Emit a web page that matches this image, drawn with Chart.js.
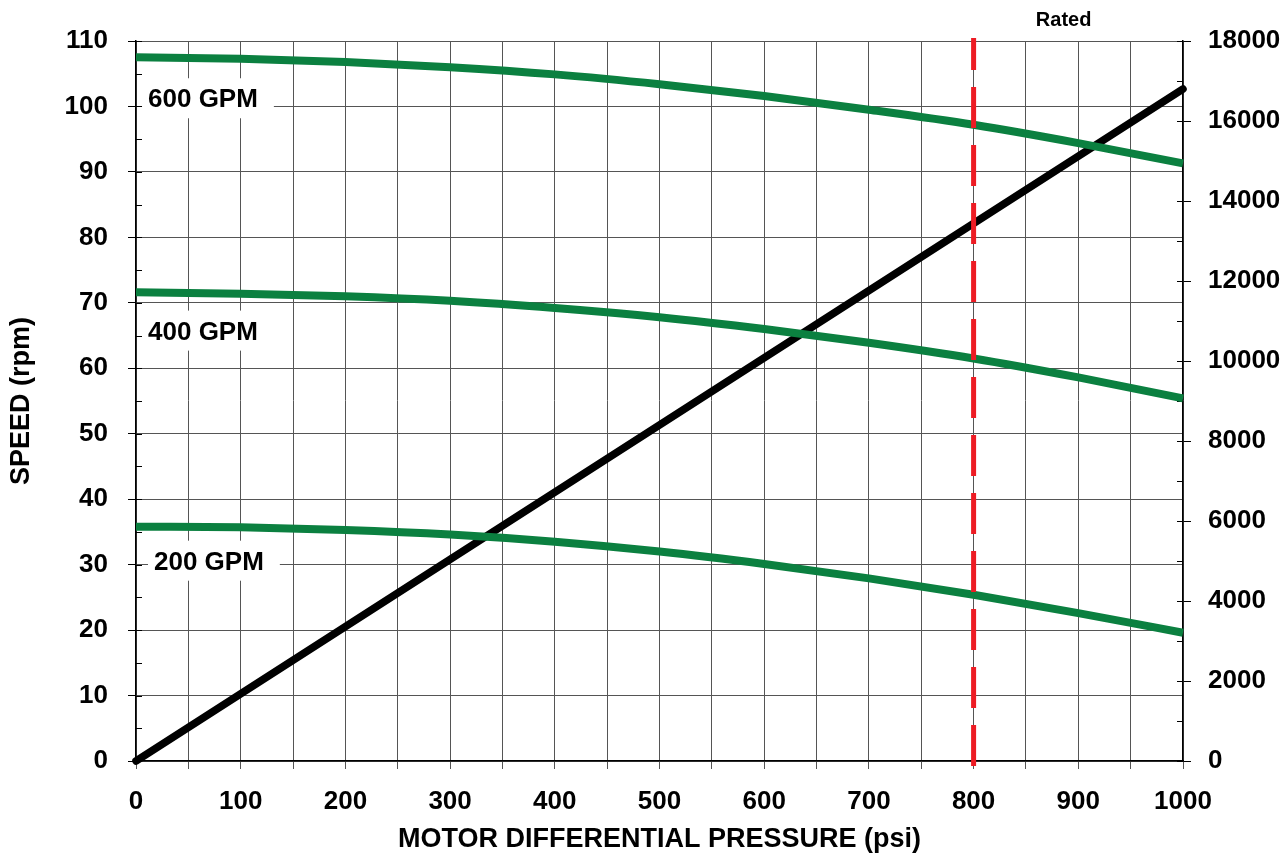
<!DOCTYPE html>
<html>
<head>
<meta charset="utf-8">
<title>Motor speed vs differential pressure</title>
<script src="https://cdn.jsdelivr.net/npm/chart.js@4.4.1/dist/chart.umd.min.js"></script>
<style>
  html, body { margin: 0; padding: 0; background: #fff; }
  #wrap { width: 1288px; height: 854px; }
</style>
</head>
<body>
<div id="wrap"><canvas id="speedChart" width="1288" height="854"></canvas></div>
<script>
// motor differential pressure (psi)
const pressure = [0, 100, 200, 300, 400, 500, 600, 700, 800, 900, 1000];
// speed (rpm) for each flow rate
const speed600 = [107.5, 107.3, 106.8, 106.0, 104.9, 103.4, 101.6, 99.5, 97.2, 94.4, 91.3];
const speed400 = [71.6, 71.4, 71.0, 70.3, 69.2, 67.8, 66.0, 63.9, 61.5, 58.6, 55.4];
const speed200 = [35.8, 35.7, 35.3, 34.6, 33.5, 32.0, 30.1, 27.9, 25.4, 22.6, 19.6];
// torque (right axis)
const torquePressure = [0, 1000];
const torque = [0, 16800];
const ratedPressure = 800;
const curveNames = ['600 GPM', '400 GPM', '200 GPM'];

const FONT = '"Liberation Sans", Arial, Helvetica, sans-serif';
const GREEN = '#0b8040';
const GRID = '#555';

function pts(xs, ys) {
    return xs.map((v, i) => ({ x: v, y: ys[i] }));
}

// where the curve names sit, in chart units (psi, rpm)
const nameSpots = [
    { x: 11.5, y: 101.1 },
    { x: 11.5, y: 65.6 },
    { x: 17.2, y: 30.45 }
];

const extras = {
    id: 'extras',
    beforeDatasetsDraw(chart) {
        const { ctx, chartArea, scales } = chart;
        const x = scales.x, y = scales.y, y2 = scales.y2;
        ctx.save();

        // inward tick marks on both vertical axes
        ctx.strokeStyle = '#000';
        ctx.lineWidth = 1;
        y.ticks.forEach(t => {
            const py = Math.round(y.getPixelForValue(t.value)) + 0.5;
            ctx.beginPath();
            ctx.moveTo(chartArea.left, py);
            ctx.lineTo(chartArea.left + 6, py);
            ctx.stroke();
        });
        y2.ticks.forEach(t => {
            const py = Math.round(y2.getPixelForValue(t.value)) + 0.5;
            ctx.beginPath();
            ctx.moveTo(chartArea.right - 6, py);
            ctx.lineTo(chartArea.right, py);
            ctx.stroke();
        });

        // curve names on white boxes
        ctx.font = 'bold 26px ' + FONT;
        ctx.textBaseline = 'middle';
        ctx.textAlign = 'left';
        curveNames.forEach((txt, i) => {
            const px = x.getPixelForValue(nameSpots[i].x);
            const py = y.getPixelForValue(nameSpots[i].y);
            const w = ctx.measureText(txt).width;
            ctx.fillStyle = '#fff';
            ctx.fillRect(px - 6, py - 21, w + 22, 40);
            ctx.fillStyle = '#000';
            ctx.fillText(txt, px, py + 1);
        });
        ctx.restore();
    },
    afterDatasetsDraw(chart) {
        const { ctx, chartArea, scales } = chart;
        const px = scales.x.getPixelForValue(ratedPressure);
        ctx.save();
        // rated pressure line, dashes start from the bottom
        ctx.strokeStyle = '#ed1c24';
        ctx.lineWidth = 5;
        ctx.setLineDash([41, 17]);
        ctx.beginPath();
        ctx.moveTo(px, chartArea.bottom + 5);
        ctx.lineTo(px, chartArea.top - 3);
        ctx.stroke();
        ctx.setLineDash([]);

        ctx.fillStyle = '#000';
        ctx.font = 'bold 20px ' + FONT;
        ctx.textAlign = 'center';
        ctx.textBaseline = 'middle';
        ctx.fillText('Rated', scales.x.getPixelForValue(886), chartArea.top - 21);
        ctx.restore();
    }
};

const tickFont = { family: FONT, size: 26, weight: 'bold' };
const titleFont = { family: FONT, size: 27, weight: 'bold', lineHeight: 1 };

new Chart(document.getElementById('speedChart'), {
    type: 'line',
    data: {
        datasets: [
            {
                label: '600 GPM',
                data: pts(pressure, speed600),
                borderColor: GREEN, borderWidth: 8,
                cubicInterpolationMode: 'monotone',
                pointRadius: 0, yAxisID: 'y'
            },
            {
                label: '400 GPM',
                data: pts(pressure, speed400),
                borderColor: GREEN, borderWidth: 8,
                cubicInterpolationMode: 'monotone',
                pointRadius: 0, yAxisID: 'y'
            },
            {
                label: '200 GPM',
                data: pts(pressure, speed200),
                borderColor: GREEN, borderWidth: 8,
                cubicInterpolationMode: 'monotone',
                pointRadius: 0, yAxisID: 'y'
            },
            {
                label: 'Torque',
                data: pts(torquePressure, torque),
                borderColor: '#000', borderWidth: 7.5,
                borderCapStyle: 'round',
                pointRadius: 0, yAxisID: 'y2'
            }
        ]
    },
    options: {
        responsive: false,
        animation: false,
        clip: false,
        layout: { padding: { top: 41, left: 0, right: 0, bottom: 0 } },
        plugins: {
            legend: { display: false },
            tooltip: { enabled: false }
        },
        scales: {
            x: {
                type: 'linear',
                min: 0, max: 1000,
                afterFit: s => { s.height = 93; },
                ticks: {
                    stepSize: 50, autoSkip: false, maxRotation: 0,
                    padding: 17, color: '#000', font: tickFont,
                    callback: v => (v % 100 === 0 ? v : '')
                },
                grid: { color: GRID, lineWidth: 1, tickLength: 8, tickColor: GRID },
                border: { color: '#000', width: 1.5 },
                title: {
                    display: true,
                    text: 'MOTOR DIFFERENTIAL PRESSURE (psi)',
                    color: '#000', font: titleFont,
                    padding: { top: 0, bottom: 0.5 }
                }
            },
            y: {
                position: 'left',
                min: 0, max: 110,
                afterFit: s => { s.width = 136; },
                ticks: {
                    stepSize: 5, autoSkip: false,
                    padding: 20, color: '#000', font: tickFont,
                    callback: v => (v % 10 === 0 ? v : '')
                },
                grid: {
                    color: c => (c.tick && c.tick.value % 10 === 0 ? GRID : 'rgba(0,0,0,0)'),
                    lineWidth: 1,
                    tickLength: 8,
                    tickColor: c => (c.tick && c.tick.value % 10 === 0 ? '#000' : 'rgba(0,0,0,0)')
                },
                border: { color: '#000', width: 1.5 },
                title: {
                    display: true,
                    text: 'SPEED (rpm)',
                    color: '#000', font: titleFont,
                    padding: { top: 8.5, bottom: 0 }
                }
            },
            y2: {
                position: 'right',
                min: 0, max: 18000,
                afterFit: s => { s.width = 105; },
                ticks: {
                    stepSize: 1000, autoSkip: false,
                    padding: 17, color: '#000', font: tickFont,
                    callback: v => (v % 2000 === 0 ? v : '')
                },
                grid: {
                    drawOnChartArea: false,
                    tickLength: 8,
                    tickColor: c => (c.tick && c.tick.value % 2000 === 0 ? '#000' : 'rgba(0,0,0,0)')
                },
                border: { color: '#000', width: 1.5 }
            }
        }
    },
    plugins: [extras]
});
</script>
</body>
</html>
